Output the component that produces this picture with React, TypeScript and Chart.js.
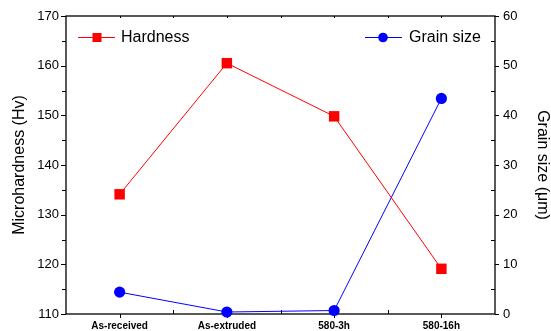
import React, { useEffect, useRef } from 'react';
import { Chart, registerables } from 'chart.js';

Chart.register(...registerables);

const categories = ['As-received', 'As-extruded', '580-3h', '580-16h'];
const hardness = [134.1, 160.5, 149.8, 119.1];
const grainSize = [4.4, 0.4, 0.7, 43.4];
const hardnessRange = [110, 170];
const grainRange = [0, 60];

const FONT = '"Liberation Sans", Arial, sans-serif';
const RED = '#ff0000';
const BLUE = '#0000ff';

const framePlugin = {
  id: 'frame',
  beforeDatasetsDraw(chart: any) {
    const { ctx, chartArea: a, scales } = chart;
    const y = scales.y;
    const y1 = scales.y1;
    const x = scales.x;
    ctx.save();
    ctx.strokeStyle = '#000';
    ctx.lineWidth = 1.3;
    ctx.strokeRect(a.left, a.top, a.right - a.left, a.bottom - a.top);
    ctx.lineWidth = 1;
    ctx.beginPath();
    for (let v = y.min; v <= y.max + 0.01; v += 5) {
      const py = Math.round(y.getPixelForValue(v)) + 0.5;
      const major = Math.abs((v - y.min) % 10) < 0.01;
      ctx.moveTo(a.left, py);
      ctx.lineTo(a.left - (major ? 5 : 4), py);
    }
    for (let v = y1.min; v <= y1.max + 0.01; v += 5) {
      const py = Math.round(y1.getPixelForValue(v)) + 0.5;
      const major = Math.abs((v - y1.min) % 10) < 0.01;
      ctx.moveTo(a.right, py);
      ctx.lineTo(major ? a.right + 4 : a.right - 4, py);
    }
    for (let i = 0; i < categories.length; i++) {
      const px = Math.round(x.getPixelForValue(i)) + 0.5;
      ctx.moveTo(px, a.bottom);
      ctx.lineTo(px, a.bottom + 4);
      ctx.moveTo(px, a.top);
      ctx.lineTo(px, a.top + 2);
      if (i < categories.length - 1) {
        const pb = Math.round((x.getPixelForValue(i) + x.getPixelForValue(i + 1)) / 2) + 0.5;
        ctx.moveTo(pb, a.bottom);
        ctx.lineTo(pb, a.bottom - 4);
        ctx.moveTo(pb, a.top);
        ctx.lineTo(pb, a.top + 2);
      }
    }
    ctx.stroke();
    ctx.restore();
  },
  afterDraw(chart: any) {
    const { ctx, chartArea: a } = chart;
    ctx.save();
    const ly = a.top + 21;
    ctx.font = `16px ${FONT}`;
    ctx.textBaseline = 'middle';
    ctx.fillStyle = '#000';
    // Hardness legend
    ctx.strokeStyle = RED;
    ctx.lineWidth = 1;
    ctx.beginPath();
    ctx.moveTo(a.left + 12, ly + 0.5);
    ctx.lineTo(a.left + 49, ly + 0.5);
    ctx.stroke();
    ctx.fillStyle = RED;
    ctx.fillRect(a.left + 31 - 4.5, ly - 4, 9, 9);
    ctx.fillStyle = '#000';
    ctx.textAlign = 'left';
    ctx.fillText('Hardness', a.left + 55, ly + 1);
    // Grain size legend
    ctx.strokeStyle = BLUE;
    ctx.beginPath();
    ctx.moveTo(a.right - 130, ly + 0.5);
    ctx.lineTo(a.right - 93, ly + 0.5);
    ctx.stroke();
    ctx.fillStyle = BLUE;
    ctx.beginPath();
    ctx.arc(a.right - 112, ly + 0.5, 4.8, 0, Math.PI * 2);
    ctx.fill();
    ctx.fillStyle = '#000';
    ctx.textAlign = 'right';
    ctx.fillText('Grain size', a.right - 14, ly + 1);
    ctx.restore();
  },
};

export default function App() {
  const canvasRef = useRef<HTMLCanvasElement | null>(null);

  useEffect(() => {
    document.body.style.margin = '0';
    const canvas = canvasRef.current;
    if (!canvas) return;
    const chart = new Chart(canvas, {
      type: 'line',
      data: {
        labels: categories,
        datasets: [
          {
            label: 'Hardness',
            data: hardness,
            yAxisID: 'y',
            borderColor: RED,
            backgroundColor: RED,
            borderWidth: 1,
            pointStyle: 'rect',
            pointRadius: 7.4,
            pointBackgroundColor: RED,
            pointBorderWidth: 0,
            tension: 0,
            clip: false as any,
          },
          {
            label: 'Grain size',
            data: grainSize,
            yAxisID: 'y1',
            borderColor: BLUE,
            backgroundColor: BLUE,
            borderWidth: 1,
            pointStyle: 'circle',
            pointRadius: 5.6,
            pointBackgroundColor: BLUE,
            pointBorderWidth: 0,
            tension: 0,
            clip: false as any,
          },
        ],
      },
      options: {
        responsive: true,
        maintainAspectRatio: false,
        animation: false,
        devicePixelRatio: 1,
        events: [],
        layout: { padding: { top: 16, left: 0, right: 0, bottom: 0 } },
        plugins: {
          legend: { display: false },
          tooltip: { enabled: false },
          title: { display: false },
        },
        scales: {
          x: {
            type: 'category',
            offset: true,
            grid: { display: false, drawTicks: false },
            border: { display: false },
            ticks: {
              color: '#000',
              font: { family: FONT, size: 10, weight: 'bold' },
              padding: 6,
              maxRotation: 0,
              autoSkip: false,
            },
            afterFit: (s: any) => {
              s.height = 17;
            },
          },
          y: {
            type: 'linear',
            position: 'left',
            min: hardnessRange[0],
            max: hardnessRange[1],
            grid: { display: false, drawTicks: false },
            border: { display: false },
            ticks: {
              stepSize: 10,
              color: '#000',
              font: { family: FONT, size: 13 },
              padding: 7,
            },
            title: {
              display: true,
              text: 'Microhardness (Hv)',
              color: '#000',
              font: { family: FONT, size: 16 },
              padding: { top: 10, bottom: 0 },
            },
            afterFit: (s: any) => {
              s.width = 66;
            },
          },
          y1: {
            type: 'linear',
            position: 'right',
            min: grainRange[0],
            max: grainRange[1],
            grid: { display: false, drawTicks: false },
            border: { display: false },
            ticks: {
              stepSize: 10,
              color: '#000',
              font: { family: FONT, size: 13 },
              padding: 8,
            },
            title: {
              display: true,
              text: 'Grain size (μm)',
              color: '#000',
              font: { family: FONT, size: 16 },
              padding: { top: -1, bottom: 0 },
            },
            afterFit: (s: any) => {
              s.width = 56;
            },
          },
        },
      },
      plugins: [framePlugin],
    } as any);
    return () => chart.destroy();
  }, []);

  return (
    <div style={{ position: 'relative', width: 551, height: 331 }}>
      <canvas ref={canvasRef} />
    </div>
  );
}
